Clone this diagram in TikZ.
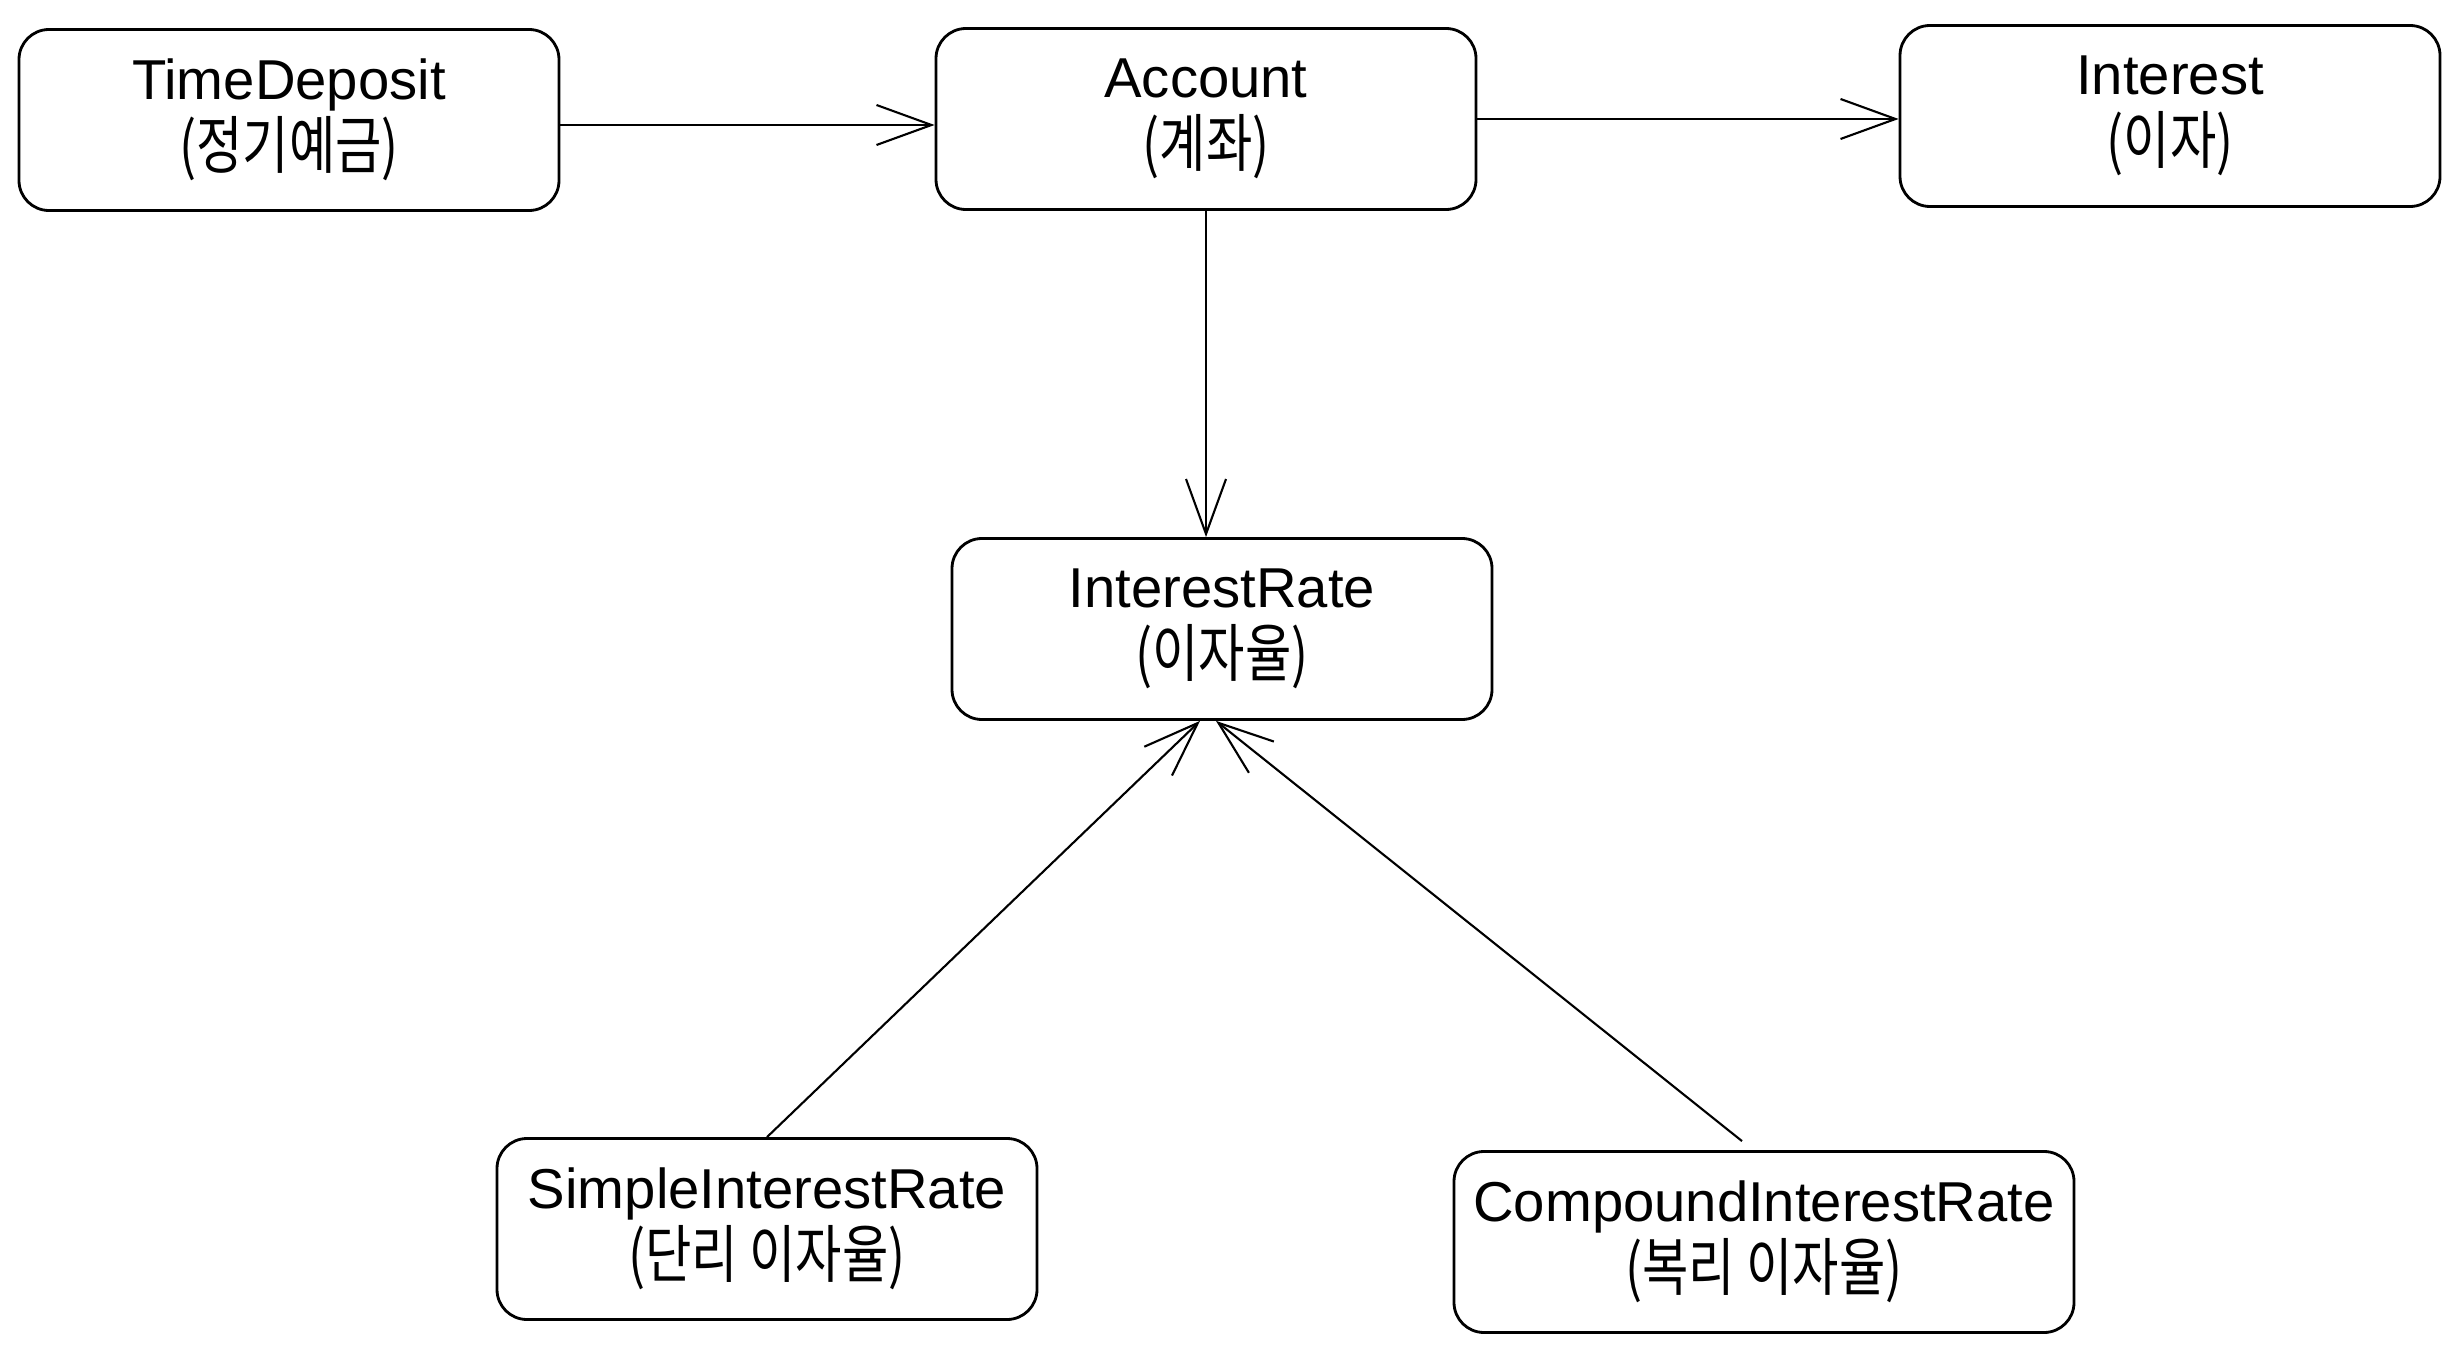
\documentclass[tikz,border=0pt]{standalone}
\usepackage{fontspec}
\setmainfont{Liberation Sans}
\newfontfamily\kr[Scale=1.12, FakeStretch=0.8]{Noto Sans CJK KR}
\usetikzlibrary{arrows.meta}
\tikzset{
  clsnode/.style = {rectangle, rounded corners=0.3cm, draw, line width=0.8pt, align=center, minimum width=5.4cm, minimum height=1.81cm, font=\fontsize{16}{19.5}\selectfont},
  clsnode_w/.style = {clsnode, minimum width=6.2cm},
  assoc/.style = {-{Straight Barb[length=5.5mm, width=4mm]}, line width=0.6pt}
}
\begin{document}
\begin{tikzpicture}
    \useasboundingbox (0,0) rectangle (24.56,13.47);
    \node[clsnode] (td) at (2.89,12.27) {TimeDeposit\\{\kr (정기예금)}};
    \node[clsnode] (acc) at (12.06,12.28) {Account\\{\kr (계좌)}};
    \node[clsnode] (int) at (21.70,12.31) {Interest\\{\kr (이자)}};
    \node[clsnode] (ir) at (12.22,7.18) {InterestRate\\{\kr (이자율)}};
    \node[clsnode] (sir) at (7.67,1.18) {SimpleInterestRate\\{\kr (단리 이자율)}};
    \node[clsnode_w] (cir) at (17.64,1.05) {CompoundInterestRate\\{\kr (복리 이자율)}};
    \draw[assoc] ([yshift=-0.05cm]td.east) -- ([yshift=-0.05cm]td.east -| acc.west);
    \draw[assoc] (acc.east) -- (acc.east -| int.west);
    \draw[assoc] (acc.south) -- (acc.south |- ir.north);
    \draw[assoc] (sir.north) -- ([xshift=-0.22cm]ir.south);
    \draw[assoc] ([xshift=-0.22cm,yshift=0.09cm]cir.north) -- ([xshift=-0.06cm]ir.south);
\end{tikzpicture}
\end{document}
